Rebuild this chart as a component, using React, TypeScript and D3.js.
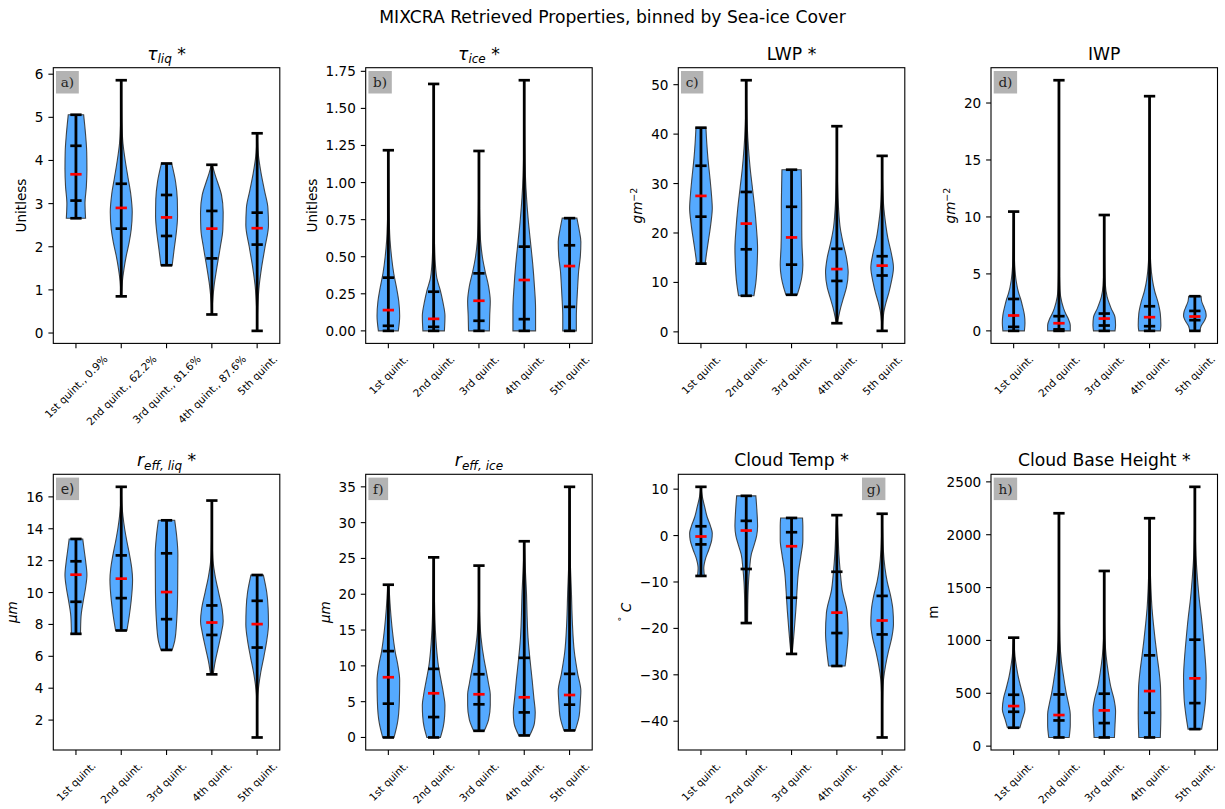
import React from "react";
import * as d3 from "d3";

type Pt = [number, number];
type Seg = { t: string; it?: boolean; sub?: boolean; sup?: boolean };

// ---------- categories ----------
const quintiles = ["1st quint.", "2nd quint.", "3rd quint.", "4th quint.", "5th quint."];
const quintilesIce = ["1st quint., 0.9%", "2nd quint., 62.2%", "3rd quint., 81.6%", "4th quint., 87.6%", "5th quint."];

// ---------- (a) tau_liq ----------
const tauLiqMin = [2.66, 0.85, 1.57, 0.43, 0.05];
const tauLiqMax = [5.06, 5.86, 3.93, 3.9, 4.63];
const tauLiqQ25 = [3.07, 2.42, 2.25, 1.73, 2.05];
const tauLiqMed = [3.68, 2.9, 2.68, 2.42, 2.43];
const tauLiqQ75 = [4.34, 3.46, 3.2, 2.83, 2.79];
const tauLiqShape: Pt[][] = [
  [[2.66, 0.85], [3.0, 0.8], [3.4, 0.92], [3.8, 0.97], [4.2, 0.95], [4.6, 0.85], [5.06, 0.68]],
  [[0.85, 0.02], [1.2, 0.1], [1.5, 0.25], [1.8, 0.45], [2.1, 0.7], [2.4, 0.88], [2.8, 0.97], [3.2, 0.85], [3.6, 0.6], [4.0, 0.35], [4.4, 0.15], [4.9, 0.05], [5.4, 0.02], [5.86, 0]],
  [[1.57, 0.5], [1.9, 0.65], [2.3, 0.85], [2.7, 0.97], [3.1, 0.95], [3.5, 0.8], [3.93, 0.45]],
  [[0.43, 0.02], [0.7, 0.06], [1.1, 0.2], [1.5, 0.43], [2.0, 0.75], [2.4, 0.97], [2.8, 1.0], [3.2, 0.85], [3.5, 0.5], [3.7, 0.25], [3.9, 0.05]],
  [[0.05, 0], [0.6, 0.05], [1.1, 0.18], [1.5, 0.38], [2.0, 0.7], [2.5, 1.0], [2.9, 0.95], [3.3, 0.65], [3.7, 0.35], [4.1, 0.12], [4.63, 0]],
];
const tauLiqTicks = [0, 1, 2, 3, 4, 5, 6];

// ---------- (b) tau_ice ----------
const tauIceMin = [0, 0, 0, 0, 0];
const tauIceMax = [1.218, 1.665, 1.213, 1.69, 0.76];
const tauIceQ25 = [0.034, 0.027, 0.068, 0.079, 0.162];
const tauIceMed = [0.14, 0.081, 0.203, 0.343, 0.437];
const tauIceQ75 = [0.359, 0.264, 0.388, 0.568, 0.577];
const tauIceShape: Pt[][] = [
  [[0, 0.88], [0.1, 1.0], [0.2, 0.92], [0.28, 0.75], [0.39, 0.47], [0.5, 0.28], [0.61, 0.15], [0.73, 0.08], [0.9, 0.04], [1.05, 0.02], [1.218, 0]],
  [[0, 0.95], [0.1, 1.0], [0.2, 0.8], [0.27, 0.6], [0.35, 0.3], [0.45, 0.15], [0.6, 0.07], [0.8, 0.03], [1.2, 0.01], [1.665, 0]],
  [[0, 0.92], [0.1, 0.95], [0.2, 1.0], [0.3, 0.85], [0.4, 0.55], [0.5, 0.3], [0.6, 0.15], [0.75, 0.07], [1.0, 0.02], [1.213, 0]],
  [[0, 1.0], [0.15, 1.0], [0.3, 0.9], [0.45, 0.75], [0.6, 0.55], [0.75, 0.35], [0.9, 0.2], [1.05, 0.1], [1.25, 0.04], [1.45, 0.01], [1.69, 0]],
  [[0, 0.6], [0.1, 0.6], [0.2, 0.65], [0.3, 0.72], [0.4, 0.8], [0.5, 0.95], [0.6, 1.0], [0.68, 0.85], [0.76, 0.65]],
];
const tauIceTicks = [0, 0.25, 0.5, 0.75, 1.0, 1.25, 1.5, 1.75];

// ---------- (c) LWP ----------
const lwpMin = [13.8, 7.3, 7.5, 1.75, 0.2];
const lwpMax = [41.3, 50.9, 32.8, 41.6, 35.6];
const lwpQ25 = [23.3, 16.7, 13.6, 10.3, 11.4];
const lwpMed = [27.5, 21.9, 19.1, 12.7, 13.4];
const lwpQ75 = [33.6, 28.3, 25.3, 16.8, 15.3];
const lwpShape: Pt[][] = [
  [[13.8, 0.37], [16, 0.5], [18.6, 0.67], [22, 0.88], [25, 1.0], [28, 0.92], [31, 0.8], [35, 0.62], [38, 0.52], [41.3, 0.44]],
  [[7.3, 0.68], [10, 0.85], [14, 0.97], [17, 1.0], [21, 0.9], [25, 0.75], [29, 0.55], [33, 0.35], [37, 0.2], [42, 0.08], [47, 0.02], [50.9, 0]],
  [[7.5, 0.5], [9, 0.7], [11, 0.9], [13.5, 1.0], [17, 0.93], [21, 0.9], [25, 0.9], [29, 0.88], [32.8, 0.85]],
  [[1.75, 0.05], [3, 0.15], [5, 0.35], [7, 0.6], [9, 0.85], [12, 1.0], [15, 0.85], [18, 0.55], [21, 0.3], [25, 0.15], [30, 0.06], [35, 0.02], [41.6, 0]],
  [[0.2, 0], [2, 0.05], [4, 0.15], [6, 0.35], [8, 0.6], [10, 0.8], [13, 1.0], [16, 0.8], [19, 0.5], [22, 0.3], [25, 0.15], [30, 0.04], [35.6, 0]],
];
const lwpTicks = [0, 10, 20, 30, 40, 50];

// ---------- (d) IWP ----------
const iwpMin = [0, 0, 0, 0, 0];
const iwpMax = [10.47, 22.0, 10.17, 20.6, 3.04];
const iwpQ25 = [0.35, 0.13, 0.47, 0.41, 0.94];
const iwpMed = [1.35, 0.67, 1.08, 1.2, 1.26];
const iwpQ75 = [2.8, 1.29, 1.52, 2.16, 1.75];
const iwpShape: Pt[][] = [
  [[0, 0.95], [0.7, 1.0], [1.4, 0.95], [2.1, 0.8], [2.8, 0.62], [3.3, 0.45], [4.4, 0.22], [5.6, 0.1], [7, 0.05], [9, 0.02], [10.47, 0]],
  [[0, 1.0], [0.5, 1.0], [1, 0.85], [1.5, 0.6], [2, 0.4], [3, 0.15], [4, 0.07], [6, 0.03], [10, 0.01], [22.0, 0]],
  [[0, 0.95], [0.5, 1.0], [1.2, 0.95], [2, 0.6], [3, 0.25], [4, 0.1], [5.5, 0.04], [8, 0.01], [10.17, 0]],
  [[0, 0.95], [0.5, 1.0], [1.5, 0.95], [2.5, 0.75], [3.5, 0.45], [4.5, 0.25], [6, 0.1], [8, 0.04], [12, 0.01], [20.6, 0]],
  [[0, 0.45], [0.4, 0.55], [0.9, 0.85], [1.3, 1.0], [1.7, 0.95], [2.2, 0.75], [2.6, 0.6], [3.04, 0.55]],
];
const iwpTicks = [0, 5, 10, 15, 20];

// ---------- (e) r_eff,liq ----------
const reffLiqMin = [7.41, 7.62, 6.4, 4.87, 0.91];
const reffLiqMax = [13.36, 16.63, 14.53, 15.77, 11.1];
const reffLiqQ25 = [9.42, 9.65, 8.33, 7.34, 6.55];
const reffLiqMed = [11.12, 10.87, 10.03, 8.12, 8.02];
const reffLiqQ75 = [11.96, 12.33, 12.46, 9.19, 9.48];
const reffLiqShape: Pt[][] = [
  [[7.41, 0.4], [8.5, 0.45], [9.4, 0.63], [10.3, 0.85], [11.1, 0.97], [12, 0.85], [12.7, 0.72], [13.36, 0.6]],
  [[7.62, 0.5], [8.5, 0.7], [9.5, 0.88], [10.8, 1.0], [11.5, 0.93], [12.3, 0.75], [13.2, 0.5], [14, 0.3], [14.8, 0.15], [15.6, 0.05], [16.63, 0]],
  [[6.4, 0.5], [7.0, 0.73], [8.3, 0.9], [10, 0.98], [12.4, 1.0], [13.5, 0.9], [14.53, 0.72]],
  [[4.87, 0.12], [5.5, 0.25], [6.5, 0.55], [7.5, 0.85], [8.2, 1.0], [9, 0.9], [10, 0.6], [11, 0.3], [12, 0.1], [13, 0.04], [14, 0.02], [15.77, 0]],
  [[0.91, 0], [2.5, 0.01], [3.5, 0.05], [4.2, 0.15], [5, 0.32], [6, 0.6], [7, 0.85], [8, 1.0], [9, 0.97], [10, 0.85], [11.1, 0.55]],
];
const reffLiqTicks = [2, 4, 6, 8, 10, 12, 14, 16];

// ---------- (f) r_eff,ice ----------
const reffIceMin = [0, 0, 0.93, 0.28, 0.98];
const reffIceMax = [21.33, 25.15, 24.0, 27.4, 35.0];
const reffIceQ25 = [4.72, 2.85, 4.63, 3.5, 4.58];
const reffIceMed = [8.41, 6.17, 6.03, 5.61, 5.93];
const reffIceQ75 = [12.06, 9.58, 8.83, 11.12, 8.88];
const reffIceShape: Pt[][] = [
  [[0, 0.5], [2, 0.8], [5, 0.97], [8, 1.0], [10, 0.85], [12, 0.6], [15, 0.35], [18, 0.18], [21.33, 0.05]],
  [[0, 0.6], [1.5, 0.85], [3, 0.97], [4.5, 1.0], [6, 0.88], [8, 0.65], [10, 0.42], [12, 0.28], [15, 0.15], [20, 0.06], [25.15, 0.02]],
  [[0.93, 0.47], [2.5, 0.85], [4.5, 1.0], [6, 1.0], [7.5, 0.85], [9, 0.68], [11, 0.44], [14, 0.18], [17, 0.06], [20, 0.02], [24.0, 0]],
  [[0.28, 0.48], [2, 0.9], [3.5, 0.97], [5.5, 0.85], [8, 0.7], [11, 0.5], [14, 0.33], [17, 0.25], [20, 0.2], [24, 0.08], [27.4, 0]],
  [[0.98, 0.5], [3, 0.85], [5, 0.95], [6.5, 1.0], [8.9, 0.72], [12, 0.42], [16, 0.25], [20, 0.17], [25, 0.06], [30, 0.02], [35.0, 0]],
];
const reffIceTicks = [0, 5, 10, 15, 20, 25, 30, 35];

// ---------- (g) Cloud Temp ----------
const tempMin = [-8.7, -18.85, -25.5, -28.1, -43.5];
const tempMax = [10.5, 8.56, 3.8, 4.4, 4.7];
const tempQ25 = [-1.9, -7.2, -13.4, -21.0, -21.3];
const tempMed = [-0.2, 1.08, -2.3, -16.6, -18.3];
const tempQ75 = [2.0, 3.17, 0.72, -7.8, -13.0];
const tempShape: Pt[][] = [
  [[-8.7, 0.3], [-7, 0.25], [-5, 0.4], [-3, 0.7], [-1, 0.95], [0.5, 1.0], [2, 0.85], [4, 0.55], [6.3, 0.32], [8.4, 0.12], [10.5, 0]],
  [[-18.85, 0.12], [-14, 0.14], [-10, 0.2], [-7, 0.3], [-4, 0.45], [-2, 0.7], [0, 0.92], [2, 1.0], [5, 0.95], [8.56, 0.85]],
  [[-25.5, 0.05], [-23, 0.15], [-20, 0.25], [-16, 0.38], [-12, 0.48], [-8, 0.6], [-4, 0.85], [-1, 1.0], [2, 1.0], [3.8, 0.97]],
  [[-28.1, 0.73], [-25, 0.88], [-21, 1.0], [-16.6, 0.92], [-11.7, 0.47], [-7.8, 0.3], [-4, 0.18], [-0.9, 0.12], [2.7, 0.05], [4.4, 0]],
  [[-43.5, 0], [-38, 0.02], [-34, 0.05], [-31, 0.12], [-28, 0.3], [-25, 0.55], [-22, 0.85], [-19, 1.0], [-16, 0.95], [-13, 0.75], [-10, 0.45], [-7, 0.25], [-3, 0.1], [0, 0.05], [4.7, 0]],
];
const tempTicks = [-40, -30, -20, -10, 0, 10];

// ---------- (h) Cloud Base Height ----------
const cbhMin = [174, 82, 82, 82, 161];
const cbhMax = [1026, 2203, 1657, 2156, 2453];
const cbhQ25 = [325, 243, 218, 316, 407];
const cbhMed = [379, 294, 338, 521, 641];
const cbhQ75 = [486, 489, 496, 859, 1007];
const cbhShape: Pt[][] = [
  [[174, 0.55], [250, 0.75], [350, 1.0], [450, 0.9], [550, 0.65], [650, 0.42], [750, 0.25], [850, 0.12], [950, 0.05], [1026, 0]],
  [[82, 0.9], [200, 1.0], [300, 1.0], [400, 0.85], [500, 0.65], [650, 0.42], [800, 0.22], [1000, 0.08], [1300, 0.03], [1700, 0.01], [2203, 0]],
  [[82, 0.9], [200, 0.95], [330, 1.0], [450, 0.85], [550, 0.6], [700, 0.35], [850, 0.17], [1000, 0.07], [1200, 0.02], [1657, 0]],
  [[82, 0.95], [300, 1.0], [550, 0.97], [700, 0.85], [850, 0.67], [1000, 0.5], [1150, 0.35], [1300, 0.22], [1500, 0.12], [1750, 0.05], [2000, 0.02], [2156, 0]],
  [[161, 0.6], [300, 0.8], [450, 0.95], [650, 1.0], [850, 0.9], [1000, 0.78], [1200, 0.6], [1400, 0.38], [1600, 0.22], [1800, 0.1], [2000, 0.04], [2200, 0.01], [2453, 0]],
];
const cbhTicks = [0, 500, 1000, 1500, 2000, 2500];

// ---------- panel definitions ----------
const fmtInt = d3.format("d");
const fmt2 = d3.format(".2f");

const panels = [
  { title: [{ t: "τ", it: true }, { t: "liq", it: true, sub: true }, { t: " *" }] as Seg[], ylabel: [{ t: "Unitless" }] as Seg[], cats: quintilesIce, min: tauLiqMin, max: tauLiqMax, q25: tauLiqQ25, med: tauLiqMed, q75: tauLiqQ75, shape: tauLiqShape, ticks: tauLiqTicks, fmt: fmtInt, label: "a)", serif: true, labelRight: false },
  { title: [{ t: "τ", it: true }, { t: "ice", it: true, sub: true }, { t: " *" }] as Seg[], ylabel: [{ t: "Unitless" }] as Seg[], cats: quintiles, min: tauIceMin, max: tauIceMax, q25: tauIceQ25, med: tauIceMed, q75: tauIceQ75, shape: tauIceShape, ticks: tauIceTicks, fmt: fmt2, label: "b)", serif: true, labelRight: false },
  { title: [{ t: "LWP *" }] as Seg[], ylabel: [{ t: "gm", it: true }, { t: "−2", sup: true }] as Seg[], cats: quintiles, min: lwpMin, max: lwpMax, q25: lwpQ25, med: lwpMed, q75: lwpQ75, shape: lwpShape, ticks: lwpTicks, fmt: fmtInt, label: "c)", serif: true, labelRight: false },
  { title: [{ t: "IWP" }] as Seg[], ylabel: [{ t: "gm", it: true }, { t: "−2", sup: true }] as Seg[], cats: quintiles, min: iwpMin, max: iwpMax, q25: iwpQ25, med: iwpMed, q75: iwpQ75, shape: iwpShape, ticks: iwpTicks, fmt: fmtInt, label: "d)", serif: true, labelRight: false },
  { title: [{ t: "r", it: true }, { t: "eff, liq", it: true, sub: true }, { t: " *" }] as Seg[], ylabel: [{ t: "μm", it: true }] as Seg[], cats: quintiles, min: reffLiqMin, max: reffLiqMax, q25: reffLiqQ25, med: reffLiqMed, q75: reffLiqQ75, shape: reffLiqShape, ticks: reffLiqTicks, fmt: fmtInt, label: "e)", serif: false, labelRight: false },
  { title: [{ t: "r", it: true }, { t: "eff, ice", it: true, sub: true }] as Seg[], ylabel: [{ t: "μm", it: true }] as Seg[], cats: quintiles, min: reffIceMin, max: reffIceMax, q25: reffIceQ25, med: reffIceMed, q75: reffIceQ75, shape: reffIceShape, ticks: reffIceTicks, fmt: fmtInt, label: "f)", serif: true, labelRight: false },
  { title: [{ t: "Cloud Temp *" }] as Seg[], ylabel: [{ t: "°", sup: true }, { t: " C", it: true }] as Seg[], cats: quintiles, min: tempMin, max: tempMax, q25: tempQ25, med: tempMed, q75: tempQ75, shape: tempShape, ticks: tempTicks, fmt: fmtInt, label: "g)", serif: true, labelRight: true },
  { title: [{ t: "Cloud Base Height *" }] as Seg[], ylabel: [{ t: "m" }] as Seg[], cats: quintiles, min: cbhMin, max: cbhMax, q25: cbhQ25, med: cbhMed, q75: cbhQ75, shape: cbhShape, ticks: cbhTicks, fmt: fmtInt, label: "h)", serif: true, labelRight: false },
];

// ---------- layout ----------
const FIG_W = 1225;
const FIG_H = 809;
const colLefts = [53.3, 365.7, 678.3, 991];
const rowTops = [67.7, 474.3];
const AX_W = 226.5;
const AX_H = 275.7;
const SANS = "'DejaVu Sans', sans-serif";
const SERIF = "'DejaVu Serif', serif";
const TICK_FS = 13.6;
const TITLE_FS = 17.2;
const XT_FS = 10.5;
const VIOLIN_FILL = "#55aaff";

let measureCtx: CanvasRenderingContext2D | null = null;
function textWidth(s: string, size: number, family = "DejaVu Sans", style = "normal"): number {
  if (!measureCtx) measureCtx = document.createElement("canvas").getContext("2d");
  if (!measureCtx) return s.length * size * 0.6;
  measureCtx.font = `${style} ${size}px '${family}'`;
  return measureCtx.measureText(s).width;
}

function MathSpans({ segs, size }: { segs: Seg[]; size: number }) {
  let cur = 0;
  return (
    <>
      {segs.map((s, i) => {
        const fs = s.sub || s.sup ? size * 0.7 : size;
        const target = s.sub ? size * 0.22 : s.sup ? -size * 0.4 : 0;
        const dy = target - cur;
        cur = target;
        return (
          <tspan key={i} dy={dy} fontSize={fs} fontStyle={s.it ? "italic" : "normal"}>
            {s.t}
          </tspan>
        );
      })}
    </>
  );
}

function Panel({ p, L, T }: { p: (typeof panels)[number]; L: number; T: number }) {
  const B = T + AX_H;
  const R = L + AX_W;
  const lo = d3.min(p.min) as number;
  const hi = d3.max(p.max) as number;
  const pad = (hi - lo) * 0.05;
  const y = d3.scaleLinear().domain([lo - pad, hi + pad]).range([B, T]);
  const x = d3.scaleLinear().domain([0.5, 5.5]).range([L, R]);
  const halfW = x(1.25) - x(1);
  const capW = x(1.125) - x(1);

  const maxTickW = d3.max(p.ticks, (t) => textWidth(p.fmt(t), TICK_FS)) as number;
  const ylabX = L - 4.9 - 4.9 - maxTickW - 5.6 - 3.3;

  const labelW = textWidth(p.label, TICK_FS, p.serif ? "DejaVu Serif" : "DejaVu Sans") + 9.4;
  const labelX = p.labelRight ? L + 183.7 : L + 2.7;
  const labelY = T + 3.3;

  return (
    <g>
      <rect x={L} y={T} width={AX_W} height={AX_H} fill="white" />
      {p.shape.map((sh, i) => {
        const cx = x(i + 1);
        const area = d3
          .area<Pt>()
          .curve(d3.curveMonotoneY)
          .y((d) => y(d[0]))
          .x0((d) => cx - d[1] * halfW)
          .x1((d) => cx + d[1] * halfW);
        return (
          <path key={"v" + i} d={area(sh) || ""} fill={VIOLIN_FILL} stroke="#333" strokeWidth={1.1} strokeOpacity={0.9} />
        );
      })}
      {p.cats.map((_, i) => {
        const cx = x(i + 1);
        const hl = (v: number, color: string, k: string) => (
          <line key={k} x1={cx - capW} x2={cx + capW} y1={y(v)} y2={y(v)} stroke={color} strokeWidth={2.7} />
        );
        return (
          <g key={"s" + i}>
            <line x1={cx} x2={cx} y1={y(p.min[i])} y2={y(p.max[i])} stroke="black" strokeWidth={2.8} />
            {hl(p.min[i], "black", "mn")}
            {hl(p.max[i], "black", "mx")}
            {hl(p.q25[i], "black", "q1")}
            {hl(p.q75[i], "black", "q3")}
            {hl(p.med[i], "red", "md")}
          </g>
        );
      })}
      <rect x={L} y={T} width={AX_W} height={AX_H} fill="none" stroke="black" strokeWidth={1.1} />
      {/* y ticks */}
      {p.ticks.map((t) => (
        <g key={"yt" + t}>
          <line x1={L - 4.9} x2={L} y1={y(t)} y2={y(t)} stroke="black" strokeWidth={1.1} />
          <text x={L - 9.8} y={y(t)} textAnchor="end" dominantBaseline="central" fontSize={TICK_FS} fontFamily={SANS}>
            {p.fmt(t)}
          </text>
        </g>
      ))}
      {/* x ticks */}
      {p.cats.map((c, i) => {
        const cx = x(i + 1);
        const w = textWidth(c, XT_FS);
        const h = XT_FS * 1.17;
        const bb = (w + h) / Math.SQRT2;
        const cy = B + 9.2 + bb / 2;
        return (
          <g key={"xt" + i}>
            <line x1={cx} x2={cx} y1={B} y2={B + 4.9} stroke="black" strokeWidth={1.1} />
            <text transform={`translate(${cx},${cy}) rotate(-45)`} textAnchor="middle" dominantBaseline="central" fontSize={XT_FS} fontFamily={SANS}>
              {c}
            </text>
          </g>
        );
      })}
      {/* title */}
      <text x={(L + R) / 2} y={T - 8} textAnchor="middle" fontSize={TITLE_FS} fontFamily={SANS}>
        <MathSpans segs={p.title} size={TITLE_FS} />
      </text>
      {/* y label */}
      <text transform={`translate(${ylabX},${(T + B) / 2}) rotate(-90)`} textAnchor="middle" fontSize={TICK_FS} fontFamily={SANS}>
        <MathSpans segs={p.ylabel} size={TICK_FS} />
      </text>
      {/* panel label */}
      <rect x={labelX} y={labelY} width={labelW} height={22.5} fill="#b3b3b3" />
      <text x={labelX + 4.7} y={labelY + 16} fontSize={TICK_FS} fontFamily={p.serif ? SERIF : SANS} fill="#222">
        {p.label}
      </text>
    </g>
  );
}

export default function App() {
  return (
    <svg
      width={FIG_W}
      height={FIG_H}
      viewBox={`0 0 ${FIG_W} ${FIG_H}`}
      style={{ position: "absolute", left: 0, top: 0, background: "white" }}
    >
      <rect x={0} y={0} width={FIG_W} height={FIG_H} fill="white" />
      <text x={612.5} y={23} textAnchor="middle" fontSize={17.2} fontFamily={SANS}>
        MIXCRA Retrieved Properties, binned by Sea-ice Cover
      </text>
      {panels.map((p, i) => (
        <Panel key={i} p={p} L={colLefts[i % 4]} T={rowTops[Math.floor(i / 4)]} />
      ))}
    </svg>
  );
}
